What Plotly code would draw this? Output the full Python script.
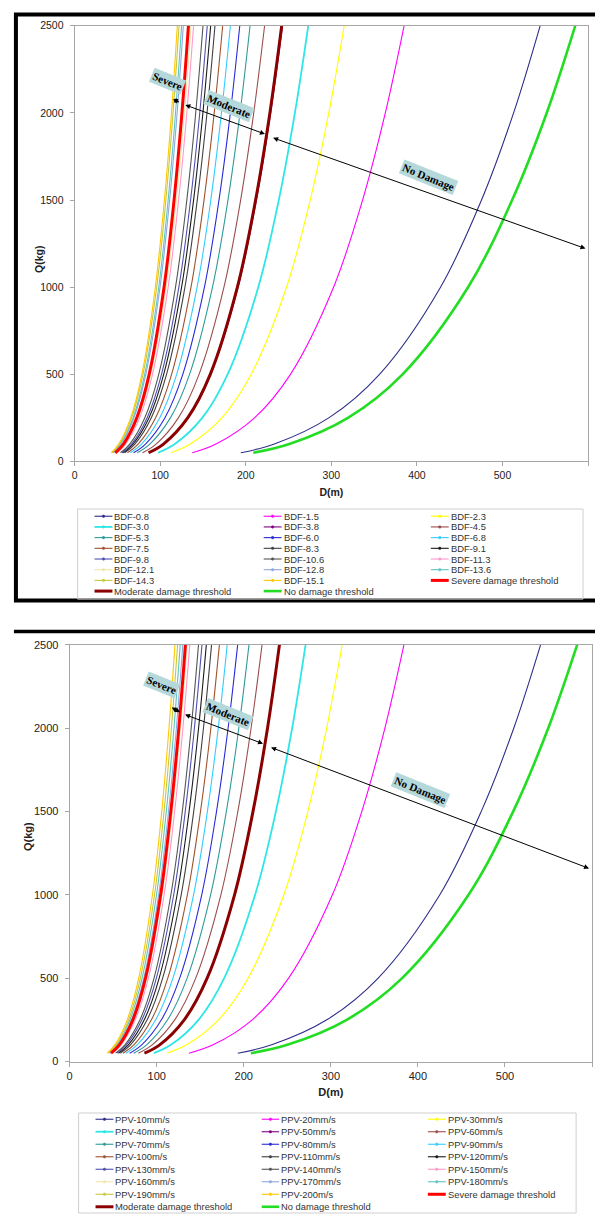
import plotly.graph_objects as go

# ---------------- data ----------------
Q_KG = [50, 100, 250, 500, 1000, 1500, 2000, 2500]

# top panel: distance D(m) for each charge Q(kg)
bdf_0_8 = [194.2, 233.4, 297.0, 356.3, 427.6, 475.5, 513.0, 544.0]
bdf_1_5 = [137.4, 165.2, 210.2, 252.2, 302.6, 336.5, 363.1, 385.0]
bdf_2_3 = [112.5, 135.1, 172.0, 206.3, 247.6, 275.3, 297.0, 315.0]
bdf_3_0 = [97.5, 117.1, 149.1, 178.8, 214.6, 238.6, 257.4, 273.0]
bdf_3_8 = [86.8, 104.2, 132.7, 159.2, 191.0, 212.4, 229.1, 243.0]
bdf_4_5 = [79.3, 95.2, 121.2, 145.4, 174.5, 194.0, 209.3, 222.0]
bdf_5_3 = [73.2, 87.9, 111.9, 134.3, 161.1, 179.2, 193.3, 205.0]
bdf_6_0 = [68.9, 82.8, 105.4, 126.4, 151.7, 168.7, 182.0, 193.0]
bdf_6_8 = [65.0, 78.1, 99.4, 119.2, 143.1, 159.1, 171.6, 182.0]
bdf_7_5 = [61.8, 74.2, 94.5, 113.3, 136.0, 151.2, 163.1, 173.0]
bdf_8_3 = [58.5, 70.4, 89.5, 107.4, 128.9, 143.3, 154.7, 164.0]
bdf_9_1 = [56.8, 68.2, 86.8, 104.1, 125.0, 139.0, 149.9, 159.0]
bdf_9_8 = [55.3, 66.5, 84.6, 101.5, 121.8, 135.5, 146.2, 155.0]
bdf_10_6 = [53.6, 64.4, 81.9, 98.3, 117.9, 131.1, 141.5, 150.0]
bdf_11_3 = [49.6, 59.6, 75.9, 91.0, 109.3, 121.5, 131.1, 139.0]
bdf_12_1 = [48.6, 58.3, 74.3, 89.1, 106.9, 118.9, 128.2, 136.0]
bdf_12_8 = [45.3, 54.5, 69.3, 83.2, 99.8, 111.0, 119.8, 127.0]
bdf_13_6 = [44.6, 53.6, 68.3, 81.9, 98.3, 109.3, 117.9, 125.0]
bdf_14_3 = [43.6, 52.3, 66.6, 79.9, 95.9, 106.6, 115.0, 122.0]
bdf_15_1 = [42.8, 51.5, 65.5, 78.6, 94.3, 104.9, 113.2, 120.0]
bdf_severe = [47.5, 57.1, 72.6, 87.1, 104.5, 116.2, 125.4, 133.0]
bdf_moderate = [86.4, 103.8, 132.1, 158.5, 190.2, 211.5, 228.2, 242.0]
bdf_no_damage = [208.8, 251.0, 319.4, 383.2, 459.8, 511.3, 551.7, 585.0]

# bottom panel
ppv_10 = [193.1, 232.1, 295.4, 354.4, 425.2, 472.8, 510.2, 541.0]
ppv_20 = [137.1, 164.7, 209.7, 251.5, 301.8, 335.6, 362.1, 384.0]
ppv_30 = [111.7, 134.3, 170.9, 205.0, 246.0, 273.6, 295.2, 313.0]
ppv_40 = [96.7, 116.3, 148.0, 177.5, 213.0, 236.9, 255.6, 271.0]
ppv_50 = [86.0, 103.4, 131.6, 157.9, 189.4, 210.6, 227.3, 241.0]
ppv_60 = [78.9, 94.8, 120.7, 144.8, 173.7, 193.2, 208.4, 221.0]
ppv_70 = [73.5, 88.4, 112.5, 134.9, 161.9, 180.0, 194.3, 206.0]
ppv_80 = [68.9, 82.8, 105.4, 126.4, 151.7, 168.7, 182.0, 193.0]
ppv_90 = [64.6, 77.6, 98.8, 118.6, 142.3, 158.2, 170.7, 181.0]
ppv_100 = [61.4, 73.8, 93.9, 112.7, 135.2, 150.3, 162.2, 172.0]
ppv_110 = [58.2, 69.9, 89.0, 106.8, 128.1, 142.5, 153.7, 163.0]
ppv_120 = [56.0, 67.4, 85.7, 102.8, 123.4, 137.2, 148.1, 157.0]
ppv_130 = [54.3, 65.2, 83.0, 99.6, 119.5, 132.8, 143.3, 152.0]
ppv_140 = [52.8, 63.5, 80.8, 96.9, 116.3, 129.4, 139.6, 148.0]
ppv_150 = [49.3, 59.2, 75.3, 90.4, 108.5, 120.6, 130.1, 138.0]
ppv_160 = [48.2, 57.9, 73.7, 88.4, 106.1, 118.0, 127.3, 135.0]
ppv_170 = [46.4, 55.8, 71.0, 85.2, 102.2, 113.6, 122.6, 130.0]
ppv_180 = [45.3, 54.5, 69.3, 83.2, 99.8, 111.0, 119.8, 127.0]
ppv_190 = [44.3, 53.2, 67.7, 81.2, 97.5, 108.4, 116.9, 124.0]
ppv_200 = [43.2, 51.9, 66.1, 79.3, 95.1, 105.8, 114.1, 121.0]
ppv_severe = [47.5, 57.1, 72.6, 87.1, 104.5, 116.2, 125.4, 133.0]
ppv_moderate = [86.0, 103.4, 131.6, 157.9, 189.4, 210.6, 227.3, 241.0]
ppv_no_damage = [208.1, 250.1, 318.3, 381.9, 458.2, 509.5, 549.8, 583.0]

TOP_NAMES = ["BDF-0.8", "BDF-1.5", "BDF-2.3", "BDF-3.0", "BDF-3.8", "BDF-4.5",
             "BDF-5.3", "BDF-6.0", "BDF-6.8", "BDF-7.5", "BDF-8.3", "BDF-9.1",
             "BDF-9.8", "BDF-10.6", "BDF-11.3", "BDF-12.1", "BDF-12.8", "BDF-13.6",
             "BDF-14.3", "BDF-15.1", "Severe damage threshold",
             "Moderate damage threshold", "No damage threshold"]
TOP_VALUES = [bdf_0_8, bdf_1_5, bdf_2_3, bdf_3_0, bdf_3_8, bdf_4_5, bdf_5_3, bdf_6_0,
              bdf_6_8, bdf_7_5, bdf_8_3, bdf_9_1, bdf_9_8, bdf_10_6, bdf_11_3, bdf_12_1,
              bdf_12_8, bdf_13_6, bdf_14_3, bdf_15_1, bdf_severe, bdf_moderate, bdf_no_damage]

BOT_NAMES = ["PPV-10mm/s", "PPV-20mm/s", "PPV-30mm/s", "PPV-40mm/s", "PPV-50mm/s",
             "PPV-60mm/s", "PPV-70mm/s", "PPV-80mm/s", "PPV-90mm/s", "PPV-100m/s",
             "PPV-110mm/s", "PPV-120mm/s", "PPV-130mm/s", "PPV-140mm/s", "PPV-150mm/s",
             "PPV-160mm/s", "PPV-170mm/s", "PPV-180mm/s", "PPV-190mm/s", "PPV-200m/s",
             "Severe damage threshold", "Moderate damage threshold", "No damage threshold"]
BOT_VALUES = [ppv_10, ppv_20, ppv_30, ppv_40, ppv_50, ppv_60, ppv_70, ppv_80, ppv_90,
              ppv_100, ppv_110, ppv_120, ppv_130, ppv_140, ppv_150, ppv_160, ppv_170,
              ppv_180, ppv_190, ppv_200, ppv_severe, ppv_moderate, ppv_no_damage]

X_TICKS = [0, 100, 200, 300, 400, 500, 600]
Y_TICKS = [0, 500, 1000, 1500, 2000, 2500]

# ---------------- styles ----------------
COLORS = ["#2E2E8A", "#FF00FF", "#FFFF00", "#2EE6E6", "#800080", "#9B4D4D",
          "#2E9A9A", "#2A2AD8", "#33CCFF", "#A0522D", "#404040", "#1A1A1A",
          "#5050B0", "#555555", "#FF99CC", "#F2E6A8", "#8FA8E0", "#5FC4C4",
          "#C8C83C", "#FFC800", "#FF0000", "#8B0000", "#22DD22"]
WIDTHS = [1.1] * 20 + [3, 3, 2.6]
WIDTHS[3] = 1.8

W, H = 595, 1220
def px(x):
    return x / W
def py(y):
    return 1 - y / H

fig = go.Figure()

panels = [
    dict(names=TOP_NAMES, vals=TOP_VALUES, xa="x", ya="y"),
    dict(names=BOT_NAMES, vals=BOT_VALUES, xa="x2", ya="y2"),
]
for p in panels:
    for name, vals, col, w in zip(p["names"], p["vals"], COLORS, WIDTHS):
        fig.add_trace(go.Scatter(
            x=vals, y=Q_KG, name=name, mode="lines",
            line=dict(color=col, width=w, shape="spline", smoothing=1.0),
            xaxis=p["xa"], yaxis=p["ya"], showlegend=False,
        ))

axis_common = dict(showline=True, linecolor="#A6A6A6", linewidth=1, mirror=True,
                   ticks="outside", ticklen=4, tickcolor="#A6A6A6", showgrid=False,
                   zeroline=False)
fig.update_layout(
    width=W, height=H, margin=dict(l=0, r=0, t=0, b=0),
    paper_bgcolor="white", plot_bgcolor="white", showlegend=False,
    font=dict(family="Liberation Sans, Arial, sans-serif", color="#222"),
    xaxis=dict(domain=[px(72), px(588)], anchor="y", range=[0, 600], tickvals=X_TICKS,
               tickfont=dict(size=10.5, color="#222"),
               title=dict(text="<b>D(m)</b>", font=dict(size=10.5), standoff=8), **axis_common),
    yaxis=dict(domain=[py(460), py(20)], anchor="x", range=[0, 2500], tickvals=Y_TICKS,
               ticklabelstandoff=4, tickfont=dict(size=10.5, color="#222"), **axis_common),
    xaxis2=dict(domain=[px(67), px(592)], anchor="y2", range=[0, 600], tickvals=X_TICKS,
                tickfont=dict(size=11, color="#222"),
                title=dict(text="<b>D(m)</b>", font=dict(size=11), standoff=7), **axis_common),
    yaxis2=dict(domain=[py(1066), py(645)], anchor="x2", range=[0, 2500], tickvals=Y_TICKS,
                ticklabelstandoff=4, tickfont=dict(size=11, color="#222"), **axis_common),
)

shapes = []
annotations = []

# y-axis titles
annotations.append(dict(x=px(28), y=py(240), xref="paper", yref="paper", text="<b>Q(kg)</b>",
                        textangle=-90, showarrow=False, font=dict(size=10.5, color="#222")))
annotations.append(dict(x=px(17), y=py(855), xref="paper", yref="paper", text="<b>Q(kg)</b>",
                        textangle=-90, showarrow=False, font=dict(size=11, color="#222")))

# panel frames
shapes.append(dict(type="rect", xref="paper", yref="paper", x0=px(13), x1=px(598),
                   y0=py(600.5), y1=py(8.5), line=dict(color="black", width=4)))
shapes.append(dict(type="line", xref="paper", yref="paper", x0=px(11), x1=px(595),
                   y0=py(631.7), y1=py(631.7), line=dict(color="black", width=3.5)))

# zone arrows and labels
LABEL_FONT = dict(family="Liberation Serif, Times New Roman, serif", size=11, color="black")
def arrow(xr, yr, a, b):
    annotations.append(dict(x=b[0], y=b[1], ax=a[0], ay=a[1], xref=xr, yref=yr,
                            axref=xr, ayref=yr, text="", showarrow=True, arrowhead=2,
                            arrowside="end+start", arrowsize=1, arrowwidth=1,
                            arrowcolor="black", standoff=0, startstandoff=0))
def label(xr, yr, pos, txt):
    annotations.append(dict(x=pos[0], y=pos[1], xref=xr, yref=yr, text="<b>%s</b>" % txt,
                            showarrow=False, textangle=22, font=LABEL_FONT,
                            bgcolor="#B5D8DB", borderpad=1))

arrow("x", "y", (113.1, 2083), (122.4, 2061))
arrow("x", "y", (127.6, 2049), (222.4, 1879))
arrow("x", "y", (230.2, 1860), (597, 1222))
label("x", "y", (108, 2182), "Severe")
label("x", "y", (180, 2040), "Moderate")
label("x", "y", (413, 1631), "No Damage")

arrow("x2", "y2", (115.5, 2128), (127.0, 2094))
arrow("x2", "y2", (130.8, 2084), (222.1, 1906))
arrow("x2", "y2", (229.6, 1887), (596.6, 1158))
label("x2", "y2", (106, 2256), "Severe")
label("x2", "y2", (181.4, 2084), "Moderate")
label("x2", "y2", (402.6, 1629), "No Damage")

# hand-built legends (3 columns, row-major)
def legend(names, box, row0, dy, cols):
    shapes.append(dict(type="rect", xref="paper", yref="paper", x0=px(box[0]), x1=px(box[1]),
                       y0=py(box[3]), y1=py(box[2]), line=dict(color="#CFCFCF", width=1),
                       fillcolor="rgba(0,0,0,0)"))
    for i, (name, col, w) in enumerate(zip(names, COLORS, WIDTHS)):
        r, c = divmod(i, 3)
        y = row0 + r * dy
        x0, x1, xt = cols[c]
        shapes.append(dict(type="line", xref="paper", yref="paper", x0=px(x0), x1=px(x1),
                           y0=py(y), y1=py(y), line=dict(color=col, width=min(w, 3))))
        if w < 2.5:
            xm = (x0 + x1) / 2
            shapes.append(dict(type="circle", xref="paper", yref="paper",
                               x0=px(xm - 1.3), x1=px(xm + 1.3), y0=py(y + 1.3), y1=py(y - 1.3),
                               fillcolor=col, line=dict(color=col, width=0.5)))
        annotations.append(dict(x=px(xt), y=py(y), xref="paper", yref="paper", text=name,
                                showarrow=False, xanchor="left", yanchor="middle",
                                font=dict(size=9.4, color="#333"), borderpad=0))

legend(TOP_NAMES, (75, 583, 508, 599), 515.3, 10.8,
       [(92, 110, 111), (262, 280, 281), (430, 448, 449)])
legend(BOT_NAMES, (76, 576, 1118, 1219), 1124.3, 12.63,
       [(93, 111, 112), (260, 277.5, 278.5), (427, 445, 446)])

fig.update_layout(shapes=shapes, annotations=annotations)
fig.write_html("out.html", config={"displayModeBar": False},
               post_script="document.body.style.margin='0';")
